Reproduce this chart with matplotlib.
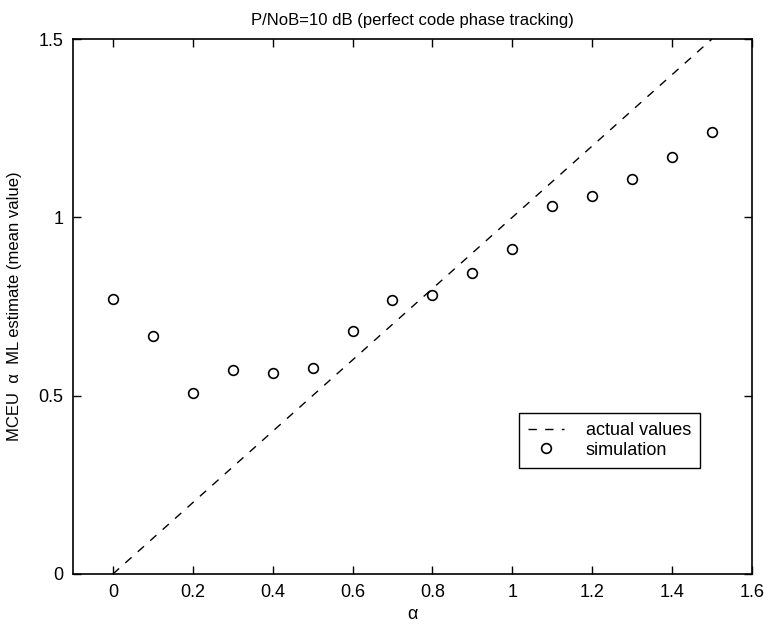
import matplotlib
matplotlib.use("Agg")
import matplotlib.pyplot as plt

plt.rcParams['font.family'] = ['Liberation Sans', 'DejaVu Sans']

alpha_actual = [0.0, 1.5]
actual_values = [0.0, 1.5]

alpha_sim = [0.0, 0.1, 0.2, 0.3, 0.4, 0.5, 0.6, 0.7, 0.8, 0.9, 1.0, 1.1, 1.2, 1.3, 1.4, 1.5]
sim_values = [0.770, 0.666, 0.507, 0.571, 0.563, 0.577, 0.682, 0.768, 0.782, 0.845,
              0.912, 1.033, 1.061, 1.107, 1.168, 1.240]

x_ticks = [0, 0.2, 0.4, 0.6, 0.8, 1.0, 1.2, 1.4, 1.6]
x_ticklabels = ['0', '0.2', '0.4', '0.6', '0.8', '1', '1.2', '1.4', '1.6']
y_ticks = [0, 0.5, 1.0, 1.5]
y_ticklabels = ['0', '0.5', '1', '1.5']

fig = plt.figure(figsize=(7.64, 6.25), dpi=100)
ax = fig.add_axes([0.0955, 0.0816, 0.8887, 0.856])

ax.plot(alpha_actual, actual_values, linestyle=(0, (6, 6)), color='black', lw=1.0,
        label='actual values')
ax.plot(alpha_sim, sim_values, linestyle='none', marker='o', markersize=7,
        markerfacecolor='none', markeredgecolor='black', markeredgewidth=1.2,
        label='simulation')

ax.set_xlim(-0.1, 1.6)
ax.set_ylim(0, 1.5)
ax.set_xticks(x_ticks)
ax.set_xticklabels(x_ticklabels)
ax.set_yticks(y_ticks)
ax.set_yticklabels(y_ticklabels)
ax.tick_params(direction='in', top=True, right=True, length=6, width=1.0,
               labelsize=13, pad=7)
for s in ax.spines.values():
    s.set_linewidth(1.2)

ax.set_title('P/NoB=10 dB (perfect code phase tracking)', fontsize=12, pad=10)
ax.set_xlabel('α', fontsize=13, labelpad=4)
ax.set_ylabel('MCEU  α  ML estimate (mean value)', fontsize=12, labelpad=12)

leg = ax.legend(loc='upper left', bbox_to_anchor=(0.657, 0.301), fontsize=13,
                frameon=True, fancybox=False, edgecolor='black', framealpha=1,
                handlelength=2.0, borderpad=0.5, labelspacing=0.15, handletextpad=1.2,
                borderaxespad=0)
leg.get_frame().set_linewidth(1.0)

fig.savefig('out.png', dpi=100)
